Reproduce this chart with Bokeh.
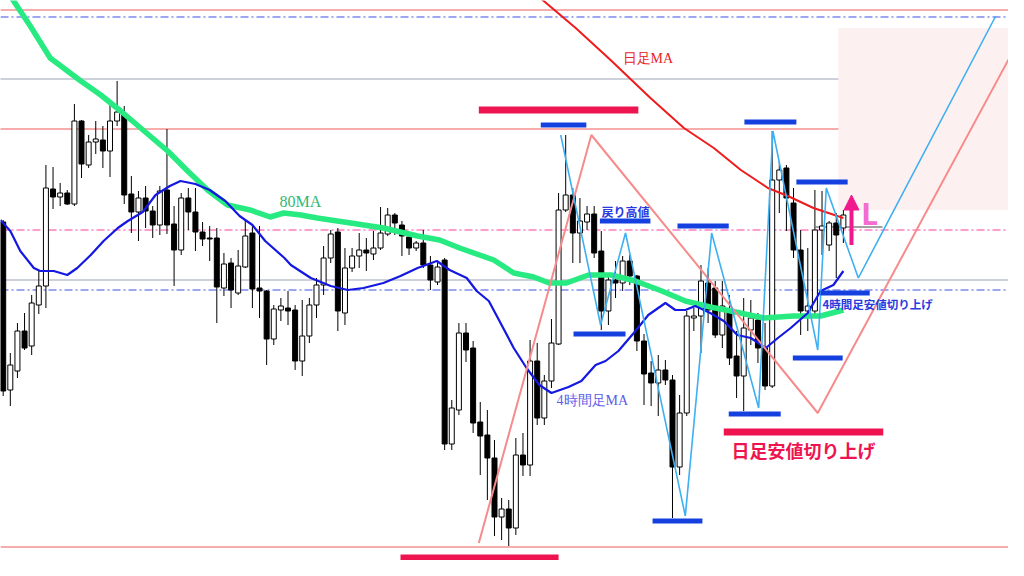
from bokeh.plotting import figure
from bokeh.models import Range1d, Span, Label, Arrow, NormalHead, BoxAnnotation
from bokeh.embed import file_html
from bokeh.resources import INLINE

# ---- candle data (bar index 0..118, arbitrary price units) ----
opens = [352,184,203,243,228,269,288,385,377,381, 370,453,409,432,434,423,453,459,380,362,
         376,363,349,384,350,324,376,362,342,336, 336,286,311,281,307,341,286,283,235,264,
         266,264,213,238,269,289,316,342,261,306, 318,324,320,326,340,359,349,337,326,331,
         309,292,314,130,164,241,226,152,139,116, 57,65,46,119,109,213,156,193,230,364,
         379,341,352,360,323,263,294,291,313,298, 233,201,191,204,194,107,161,256,258,291,
         286,239,261,218,198,244,254,226,188,394, 406,371,324,263,263,344,329,351,346]
highs = [354,221,251,261,279,303,409,407,391,384, 470,454,439,453,448,469,493,468,398,383,
         388,368,388,445,368,381,386,386,352,348, 346,321,316,324,353,348,348,284,269,276,
         283,269,274,276,296,328,344,346,326,326, 341,336,343,367,366,361,353,342,333,344,
         318,311,316,174,251,251,233,172,164,134, 76,74,136,141,234,231,199,255,381,439,
         386,376,368,368,343,299,313,318,319,299, 240,213,219,214,199,179,263,266,309,306,
         293,293,279,243,276,274,261,251,443,413, 409,386,344,326,384,383,353,361,364]
lows = [178,168,196,224,219,260,266,365,368,369, 368,396,406,420,406,397,448,370,341,333,
        346,336,339,340,288,319,344,323,328,313, 251,278,266,279,306,266,256,209,229,253,
        249,204,198,231,256,279,311,243,249,302, 306,303,314,324,338,339,318,319,323,306,
        284,289,124,124,159,212,141,99,74,38, 34,28,39,98,98,149,149,186,229,362,
        311,311,344,316,244,249,276,283,289,223, 169,168,158,189,56,99,158,243,221,251,
        236,226,209,176,163,229,211,184,186,361, 343,316,239,243,259,319,323,296,331]
closes = [183,209,243,226,271,288,386,377,381,370, 453,410,432,435,423,453,462,379,362,376,
          363,349,383,349,324,376,362,342,335,335, 287,310,284,308,338,285,283,235,265,268,
          263,213,238,269,289,316,340,263,306,318, 324,321,326,341,359,351,338,326,331,309,
          294,307,130,166,241,224,151,138,116,57, 65,46,119,109,213,156,193,231,364,379,
          341,353,360,321,263,294,291,313,298,233, 200,191,204,194,107,161,258,258,293,264,
          239,268,216,198,246,256,226,188,394,404, 376,324,263,268,344,348,351,339,359]

# ---- moving averages (bar index, value) ----
ma80_idx = [1.0,3.8,6.6,10.9,13.7,16.5,19.3,23.1,25.9,28.7,31.5,34.7,37.5,39.4,41.8,44.1,48.8,53.4,
            58.2,61.3,64.1,68.9,71.7,74.5,76.7,79.1,82.2,85.4,88.8,92.5,95.8,99.3,102.2,106.8,111.0,114.8,118.0]
ma80_val = [578,548,516,493,479,463,446,423,403,384,369,364,357,361,359,356,351,346,
            338,334,326,314,301,297,291,291,299,299,293,283,273,267,263,256,258,258,264]
ma4h_idx = [-0.4,1.0,2.4,4.3,5.2,7.1,9.0,10.4,12.3,14.1,16.1,17.5,19.6,21.4,23.4,24.9,27.0,29.0,31.2,
            33.2,35.0,36.8,39.5,40.4,43.2,46.0,48.4,50.6,53.4,55.8,58.2,60.9,62.7,65.1,66.5,68.2,69.7,
            71.7,73.5,75.3,77.0,79.4,81.2,83.2,84.6,86.4,88.8,90.6,93.0,94.4,95.8,97.2,99.3,101.2,
            103.1,105.0,107.1,108.8,110.6,113.0,114.8,116.6,118.0]
ma4h_val = [354,343,323,306,303,303,299,306,319,333,346,353,362,379,388,393,390,384,373,
            358,349,333,316,309,296,288,284,286,291,298,306,313,304,296,283,273,253,
            226,206,189,181,187,193,209,213,223,243,259,271,264,264,268,261,253,
            239,236,226,236,246,261,283,289,303]
maD_idx = [74.1,80.4,85.3,90.9,95.6,99.8,103.6,107.4,110.2,113.8,118.0]
maD_val = [584,546,514,476,446,426,404,386,378,366,356]

# ---- price levels ----
full_levels = [(564, "#f05a5a", "solid"), (557, "#3b4fe8", "8 3 2 3"), (344, "#ff3d9e", "8 3 2 3"),
               (294, "#9aa3b8", "solid"), (284, "#3b4fe8", "8 3 2 3"), (27, "#f05a5a", "solid")]
left_levels = [(495, "#9aa3b8"), (445, "#f05a5a")]
last_price = 347

# ---- swing wave sketches ----
wave4h_idx = [78.3, 83.9, 87.4, 95.8, 99.5, 106.1, 108.1, 114.4, 115.6, 120.1, 139.4]
wave4h_val = [439, 249, 341, 58, 341, 166, 443, 224, 386, 296, 558]
waveD_idx = [66.8, 82.6, 114.4, 142.9]
waveD_val = [31, 439, 161, 537]

# ---- marked highs / lows (start idx, end idx, level) ----
red_marks = [(66.8, 89.2, 464), (55.8, 78.0, 16), (101.2, 123.6, 142)]
blue_marks = [(75.5, 81.9, 449), (83.8, 90.9, 353), (80.1, 87.4, 240), (94.7, 101.9, 348),
              (91.2, 98.2, 53), (101.9, 109.2, 160), (104.1, 111.4, 452), (111.4, 118.6, 392),
              (110.9, 117.9, 216), (114.8, 121.7, 281)]

p = figure(width=1008, height=560, x_range=Range1d(-0.379, 141.19), y_range=Range1d(13.5, 573.5),
           x_axis_location=None, y_axis_location=None, toolbar_location=None,
           output_backend="svg", min_border=0, outline_line_color=None,
           background_fill_color="white", border_fill_color="white")
p.grid.visible = False

p.add_layout(BoxAnnotation(left=117.3, right=145, bottom=364, top=546, fill_color="#fdf0f0",
                           fill_alpha=1.0, line_color=None, level="underlay"))
for lv, col, dash in full_levels:
    p.add_layout(Span(location=lv, dimension="width", line_color=col, line_width=1,
                      line_dash=dash, level="underlay"))
p.segment(x0=[-2] * len(left_levels), x1=[117.3] * len(left_levels),
          y0=[l[0] for l in left_levels], y1=[l[0] for l in left_levels],
          line_color=[l[1] for l in left_levels], line_width=1)
p.segment(x0=[114.1], x1=[123.5], y0=[last_price], y1=[last_price], line_color="#444444", line_width=1)

n = len(opens)
idx = list(range(n))
inc = [i for i in idx if closes[i] >= opens[i]]
dec = [i for i in idx if closes[i] < opens[i]]
p.segment(x0=idx, x1=idx, y0=lows, y1=highs, line_color="black", line_width=1)
p.vbar(x=inc, width=0.7, bottom=[opens[i] for i in inc], top=[closes[i] for i in inc],
       fill_color="white", line_color="black", line_width=1)
p.vbar(x=dec, width=0.7, bottom=[closes[i] for i in dec], top=[opens[i] for i in dec],
       fill_color="black", line_color="black", line_width=1)

p.line(ma80_idx, ma80_val, line_color="#27ea80", line_width=5.5, line_join="round")
p.line(ma4h_idx, ma4h_val, line_color="#1418e0", line_width=2.2)
p.line(maD_idx, maD_val, line_color="#ee1c1c", line_width=2)

p.line(waveD_idx, waveD_val, line_color="#f78a8a", line_width=2)
p.line(wave4h_idx, wave4h_val, line_color="#3eb0f2", line_width=1.6)

p.segment(x0=[m[0] for m in red_marks], x1=[m[1] for m in red_marks],
          y0=[m[2] for m in red_marks], y1=[m[2] for m in red_marks],
          line_color="#ee1450", line_width=7, line_cap="butt")
p.segment(x0=[m[0] for m in blue_marks], x1=[m[1] for m in blue_marks],
          y0=[m[2] for m in blue_marks], y1=[m[2] for m in blue_marks],
          line_color="#1440e0", line_width=5, line_cap="butt")

ac = "#f0188c"
p.add_layout(Arrow(end=NormalHead(size=15, fill_color=ac, line_color=ac), x_start=119.14,
                   y_start=329, x_end=119.14, y_end=379, line_color=ac, line_width=4))

labels = [
    (38.8, 373, "80MA", "Liberation Serif", "16px", "normal", "#2fb874", "left"),
    (86.98, 516, "日足MA", "Liberation Serif", "14px", "normal", "#e82424", "left"),
    (77.71, 174, "4時間足MA", "Liberation Serif", "14px", "normal", "#5c5ce8", "left"),
    (84.03, 363, "戻り高値", "Noto Sans CJK JP", "12px", "bold", "#2a3adf", "left"),
    (115.07, 270, "4時間足安値切り上げ", "Noto Sans CJK JP", "11.5px", "bold", "#2a3adf", "left"),
    (102.3, 124, "日足安値切り上げ", "Noto Sans CJK JP", "18px", "bold", "#ee1450", "left"),
    (120.5, 361, "L", "Noto Sans", "30px", "bold", "#f46cd0", "left"),
]
for x, y, t, f, s, st, c, al in labels:
    p.add_layout(Label(x=x, y=y, text=t, text_font=f, text_font_size=s, text_font_style=st,
                       text_color=c, text_align=al, text_baseline="middle"))

open("out.html", "w").write(file_html(p, INLINE))
